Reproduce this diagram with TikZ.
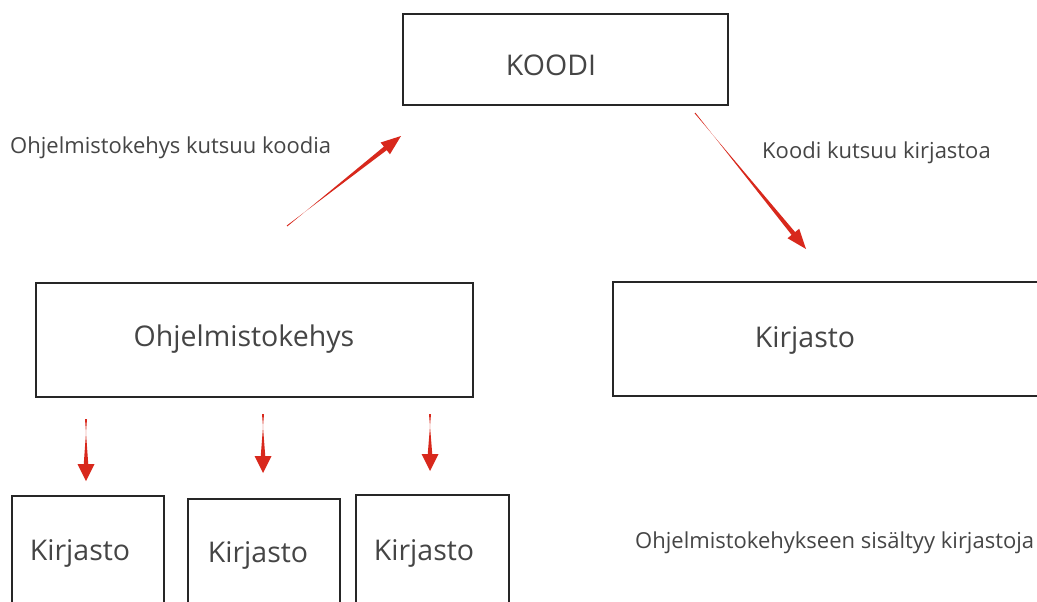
\documentclass[tikz,border=0pt]{standalone}
\usepackage{fontspec}
\setmainfont{Open Sans}
\usetikzlibrary{calc}
\definecolor{txt}{HTML}{454545}
\definecolor{arr}{HTML}{D8281C}
\newcommand{\taperarrow}[6]{% start, end, head length, head width, shaft width, tail width
  \fill[arr] ($(#1)!#6/2!90:(#2)$) --
    ($($(#2)!#3!(#1)$)!#5/2!-90:(#2)$) --
    ($($(#2)!#3!(#1)$)!#4/2!-90:(#2)$) --
    (#2) --
    ($($(#2)!#3!(#1)$)!#4/2!90:(#2)$) --
    ($($(#2)!#3!(#1)$)!#5/2!90:(#2)$) --
    ($(#1)!#6/2!-90:(#2)$) -- cycle;}
\begin{document}
\begin{tikzpicture}[x=1pt,y=-1pt,
  box/.style={draw=black!85, line width=1.5pt, rectangle, inner sep=0pt},
  big/.style={text=txt, font=\fontsize{28.5}{34}\selectfont, inner sep=0pt},
  lbl/.style={text=txt, font=\fontsize{22}{26}\selectfont, inner sep=0pt}]
\fill[white] (0,0) rectangle (1037,602);
\clip (0,0) rectangle (1037,602);
% boxes
\node[box, line width=2pt, minimum width=325pt, minimum height=91pt] (koodi) at (565.5,59.5) {};
\node[box, minimum width=437pt, minimum height=114pt] (frame) at (254.5,340) {};
\node[box, minimum width=434pt, minimum height=114pt] (lib) at (830,339) {};
\node[box, minimum width=152pt, minimum height=140pt] (k1) at (88,566) {};
\node[box, minimum width=152pt, minimum height=140pt] (k2) at (264,569) {};
\node[box, minimum width=153pt, minimum height=140pt] (k3) at (432.5,565) {};
% texts
\node[big] (tkoodi) at (551,65) {KOODI};
\node[big] (tframe) at (244,339) {Ohjelmistokehys};
\node[big] (tlib) at (805,340) {Kirjasto};
\node[big] (tk1) at (80,553) {Kirjasto};
\node[big] (tk2) at (258,555) {Kirjasto};
\node[big] (tk3) at (424,553) {Kirjasto};
\node[lbl, anchor=west] (l1) at (10,148) {Ohjelmistokehys kutsuu koodia};
\node[lbl, anchor=west] (l2) at (762,153) {Koodi kutsuu kirjastoa};
\node[lbl, anchor=west] (l3) at (635,543) {Ohjelmistokehykseen sisältyy kirjastoja};
% arrows
\coordinate (a1s) at (287,226); \coordinate (a1e) at (401,136);
\coordinate (a2s) at (695,113); \coordinate (a2e) at (806,249);
\coordinate (s1s) at (86,419); \coordinate (s1e) at (86,481);
\coordinate (s2s) at (263,414); \coordinate (s2e) at (263,473);
\coordinate (s3s) at (430,414); \coordinate (s3e) at (430,471);
\taperarrow{a1s}{a1e}{20pt}{15pt}{4.5pt}{1pt}
\taperarrow{a2s}{a2e}{20pt}{15pt}{4.5pt}{1pt}
\taperarrow{s1s}{s1e}{17pt}{17pt}{4.5pt}{2pt}
\taperarrow{s2s}{s2e}{17pt}{17pt}{4.5pt}{2pt}
\taperarrow{s3s}{s3e}{17pt}{17pt}{4.5pt}{2pt}
\end{tikzpicture}
\end{document}
